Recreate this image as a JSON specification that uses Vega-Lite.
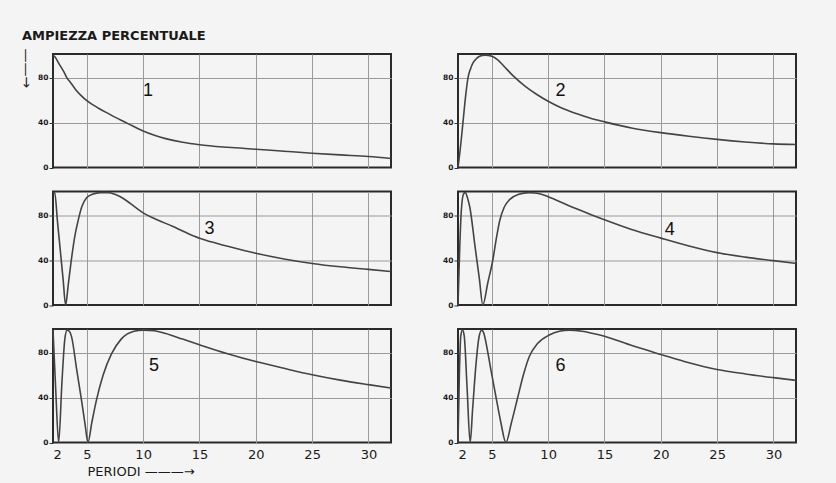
{
  "$schema": "https://vega.github.io/schema/vega-lite/v6.json",
  "background": "#f4f4f4",
  "padding": {"left": 17, "top": 30, "right": 40, "bottom": 10},
  "title": {"text": "AMPIEZZA  PERCENTUALE", "anchor": "start", "font": "DejaVu Sans", "fontSize": 13, "fontWeight": "bold", "color": "#1a1a1a", "baseline": "alphabetic", "offset": -6, "dx": 5},
  "datasets": {
    "curves": [
      {"p":1,"x":2,"y":100},{"p":1,"x":2.2,"y":98},{"p":1,"x":2.55,"y":92},{"p":1,"x":3,"y":84.5},{"p":1,"x":3.2,"y":80.5},{"p":1,"x":3.6,"y":75},{"p":1,"x":4,"y":69.5},{"p":1,"x":4.5,"y":64},{"p":1,"x":5,"y":59.5},{"p":1,"x":6,"y":53},{"p":1,"x":7,"y":47.5},{"p":1,"x":8,"y":42.2},{"p":1,"x":9,"y":37.3},{"p":1,"x":10,"y":32.5},{"p":1,"x":11,"y":28.7},{"p":1,"x":12,"y":25.7},{"p":1,"x":13.5,"y":22.5},{"p":1,"x":15,"y":20.3},{"p":1,"x":17.5,"y":18},{"p":1,"x":20,"y":16.3},{"p":1,"x":22.5,"y":14.5},{"p":1,"x":25,"y":12.7},{"p":1,"x":27.5,"y":11.2},{"p":1,"x":30,"y":9.8},{"p":1,"x":32,"y":8},
      {"p":2,"x":2,"y":0},{"p":2,"x":2.15,"y":12},{"p":2,"x":2.3,"y":26},{"p":2,"x":2.44,"y":40},{"p":2,"x":2.68,"y":64},{"p":2,"x":2.89,"y":80},{"p":2,"x":3.1,"y":87.5},{"p":2,"x":3.33,"y":93},{"p":2,"x":3.6,"y":96.5},{"p":2,"x":3.92,"y":99},{"p":2,"x":4.4,"y":100},{"p":2,"x":5,"y":99},{"p":2,"x":5.5,"y":96},{"p":2,"x":6,"y":91},{"p":2,"x":6.9,"y":81.5},{"p":2,"x":8,"y":72},{"p":2,"x":9,"y":65},{"p":2,"x":10,"y":59},{"p":2,"x":11.2,"y":53},{"p":2,"x":12.5,"y":48},{"p":2,"x":13.7,"y":44},{"p":2,"x":15,"y":40.6},{"p":2,"x":17.5,"y":35},{"p":2,"x":20,"y":31},{"p":2,"x":22.5,"y":27.8},{"p":2,"x":25,"y":25},{"p":2,"x":27.5,"y":22.7},{"p":2,"x":30,"y":21},{"p":2,"x":32,"y":20.5},
      {"p":3,"x":2,"y":100},{"p":3,"x":2.15,"y":100},{"p":3,"x":2.4,"y":74},{"p":3,"x":2.62,"y":51.5},{"p":3,"x":2.9,"y":22.6},{"p":3,"x":3.12,"y":0},{"p":3,"x":3.35,"y":17.7},{"p":3,"x":3.6,"y":38},{"p":3,"x":3.95,"y":62},{"p":3,"x":4.25,"y":76},{"p":3,"x":4.54,"y":87},{"p":3,"x":4.98,"y":95.5},{"p":3,"x":5.5,"y":98.5},{"p":3,"x":6.2,"y":100},{"p":3,"x":6.9,"y":100},{"p":3,"x":7.5,"y":98.5},{"p":3,"x":8.5,"y":93},{"p":3,"x":9.2,"y":87.8},{"p":3,"x":10,"y":82},{"p":3,"x":11,"y":77},{"p":3,"x":12.6,"y":70},{"p":3,"x":13.8,"y":64.5},{"p":3,"x":15,"y":59.5},{"p":3,"x":16.5,"y":55},{"p":3,"x":17.5,"y":52.3},{"p":3,"x":20,"y":46},{"p":3,"x":22.5,"y":41},{"p":3,"x":25,"y":37},{"p":3,"x":27.5,"y":34},{"p":3,"x":30,"y":31.7},{"p":3,"x":32,"y":29.8},
      {"p":4,"x":2,"y":0},{"p":4,"x":2.15,"y":50},{"p":4,"x":2.3,"y":85},{"p":4,"x":2.5,"y":99},{"p":4,"x":2.65,"y":100},{"p":4,"x":2.85,"y":95},{"p":4,"x":3.05,"y":87},{"p":4,"x":3.5,"y":53},{"p":4,"x":3.9,"y":23},{"p":4,"x":4.2,"y":0},{"p":4,"x":4.65,"y":20},{"p":4,"x":5.1,"y":40.5},{"p":4,"x":5.4,"y":59},{"p":4,"x":5.7,"y":75},{"p":4,"x":6.1,"y":87},{"p":4,"x":6.6,"y":94},{"p":4,"x":7.4,"y":98.5},{"p":4,"x":8.3,"y":100},{"p":4,"x":8.8,"y":99.7},{"p":4,"x":9.4,"y":98.6},{"p":4,"x":10,"y":96.4},{"p":4,"x":10.6,"y":93.8},{"p":4,"x":11.2,"y":91.2},{"p":4,"x":12.4,"y":86},{"p":4,"x":13.7,"y":80.8},{"p":4,"x":15,"y":75.8},{"p":4,"x":17.4,"y":67.2},{"p":4,"x":20,"y":59.5},{"p":4,"x":22.5,"y":52.5},{"p":4,"x":25,"y":46.6},{"p":4,"x":27.5,"y":42.6},{"p":4,"x":30,"y":39.5},{"p":4,"x":32,"y":37},
      {"p":5,"x":2,"y":100},{"p":5,"x":2.25,"y":45},{"p":5,"x":2.5,"y":0},{"p":5,"x":2.8,"y":55},{"p":5,"x":3.05,"y":92},{"p":5,"x":3.25,"y":100},{"p":5,"x":3.45,"y":99},{"p":5,"x":3.65,"y":94},{"p":5,"x":4.1,"y":65},{"p":5,"x":4.54,"y":37},{"p":5,"x":4.85,"y":16},{"p":5,"x":5.1,"y":0},{"p":5,"x":5.45,"y":18},{"p":5,"x":5.84,"y":37},{"p":5,"x":6.45,"y":60},{"p":5,"x":7.2,"y":79},{"p":5,"x":8.05,"y":92},{"p":5,"x":9.2,"y":99},{"p":5,"x":10,"y":100},{"p":5,"x":11,"y":99.5},{"p":5,"x":12,"y":97},{"p":5,"x":13.5,"y":92},{"p":5,"x":15,"y":87},{"p":5,"x":17.5,"y":79},{"p":5,"x":20,"y":72},{"p":5,"x":22.5,"y":66},{"p":5,"x":25,"y":60.3},{"p":5,"x":27.5,"y":55.5},{"p":5,"x":30,"y":51.5},{"p":5,"x":32,"y":48.5},
      {"p":6,"x":2,"y":0},{"p":6,"x":2.12,"y":60},{"p":6,"x":2.25,"y":95},{"p":6,"x":2.4,"y":100},{"p":6,"x":2.55,"y":95},{"p":6,"x":2.8,"y":50},{"p":6,"x":3.08,"y":0},{"p":6,"x":3.3,"y":30},{"p":6,"x":3.6,"y":70},{"p":6,"x":3.85,"y":93},{"p":6,"x":4.1,"y":100},{"p":6,"x":4.3,"y":97},{"p":6,"x":4.5,"y":88},{"p":6,"x":4.95,"y":63},{"p":6,"x":5.38,"y":40},{"p":6,"x":5.8,"y":18},{"p":6,"x":6.25,"y":0},{"p":6,"x":6.75,"y":18},{"p":6,"x":7.3,"y":40},{"p":6,"x":7.8,"y":60},{"p":6,"x":8.33,"y":76.5},{"p":6,"x":9.06,"y":88},{"p":6,"x":10.1,"y":95.6},{"p":6,"x":11,"y":99},{"p":6,"x":11.9,"y":100},{"p":6,"x":13,"y":99},{"p":6,"x":14,"y":97},{"p":6,"x":15,"y":94.5},{"p":6,"x":17.5,"y":86},{"p":6,"x":20,"y":78.4},{"p":6,"x":22.5,"y":71},{"p":6,"x":25,"y":65},{"p":6,"x":27.5,"y":61},{"p":6,"x":30,"y":57.7},{"p":6,"x":32,"y":55.3}
    ],
    "labels": [
      {"p":1,"x":10.43,"y":68.4,"t":"1"},
      {"p":2,"x":11.1,"y":68,"t":"2"},
      {"p":3,"x":15.9,"y":67.5,"t":"3"},
      {"p":4,"x":20.8,"y":66.9,"t":"4"},
      {"p":5,"x":10.96,"y":68,"t":"5"},
      {"p":6,"x":11.1,"y":68.4,"t":"6"}
    ]
  },
  "bounds": "flush",
  "columns": 2,
  "spacing": {"row": 23.5, "column": 67},
  "resolve": {"scale": {"x": "independent", "y": "independent"}, "axis": {"x": "independent", "y": "independent"}},
  "concat": [
    {
      "width": 338, "height": 113.5,
      "layer": [
        {"data": {"name": "curves"}, "transform": [{"filter": "datum.p == 1"}],
         "mark": {"type": "line", "interpolate": "monotone", "color": "#444", "strokeWidth": 1.6},
         "encoding": {
           "x": {"field": "x", "type": "quantitative", "scale": {"domain": [2, 32], "nice": false, "zero": false},
                 "axis": {"values": [5, 10, 15, 20, 25, 30], "labels": false, "ticks": false, "domain": false, "grid": true, "title": null}},
           "y": {"field": "y", "type": "quantitative", "scale": {"domain": [0, 101], "nice": false},
                 "axis": {"values": [0, 20, 40, 60, 80], "labelExpr": "datum.value % 40 == 0 ? datum.label : ''",
                          "tickOpacity": {"condition": {"test": "datum.value % 40 == 0", "value": 1}, "value": 0},
                          "gridOpacity": {"condition": {"test": "datum.value == 0", "value": 0}, "value": 1},
                          "title": "——→", "titleAngle": 90, "titleFont": "DejaVu Sans", "titleFontSize": 14, "titleFontWeight": "normal", "titleColor": "#222", "titleX": -28, "titleY": -6, "titleAlign": "left", "titleBaseline": "middle"}}
         }},
        {"data": {"name": "labels"}, "transform": [{"filter": "datum.p == 1"}],
         "mark": {"type": "text", "font": "Liberation Sans", "fontSize": 18, "color": "#111"},
         "encoding": {"x": {"field": "x", "type": "quantitative"}, "y": {"field": "y", "type": "quantitative"}, "text": {"field": "t"}}}
      ]
    },
    {
      "width": 338, "height": 113.5,
      "layer": [
        {"data": {"name": "curves"}, "transform": [{"filter": "datum.p == 2"}],
         "mark": {"type": "line", "interpolate": "monotone", "color": "#444", "strokeWidth": 1.6},
         "encoding": {
           "x": {"field": "x", "type": "quantitative", "scale": {"domain": [2, 32], "nice": false, "zero": false},
                 "axis": {"values": [5, 10, 15, 20, 25, 30], "labels": false, "ticks": false, "domain": false, "grid": true, "title": null}},
           "y": {"field": "y", "type": "quantitative", "scale": {"domain": [0, 101], "nice": false},
                 "axis": {"values": [0, 20, 40, 60, 80], "labelExpr": "datum.value % 40 == 0 ? datum.label : ''",
                          "tickOpacity": {"condition": {"test": "datum.value % 40 == 0", "value": 1}, "value": 0},
                          "gridOpacity": {"condition": {"test": "datum.value == 0", "value": 0}, "value": 1},
                          "title": null}}
         }},
        {"data": {"name": "labels"}, "transform": [{"filter": "datum.p == 2"}],
         "mark": {"type": "text", "font": "Liberation Sans", "fontSize": 18, "color": "#111"},
         "encoding": {"x": {"field": "x", "type": "quantitative"}, "y": {"field": "y", "type": "quantitative"}, "text": {"field": "t"}}}
      ]
    },
    {
      "width": 338, "height": 113.5,
      "layer": [
        {"data": {"name": "curves"}, "transform": [{"filter": "datum.p == 3"}],
         "mark": {"type": "line", "interpolate": "monotone", "color": "#444", "strokeWidth": 1.6},
         "encoding": {
           "x": {"field": "x", "type": "quantitative", "scale": {"domain": [2, 32], "nice": false, "zero": false},
                 "axis": {"values": [5, 10, 15, 20, 25, 30], "labels": false, "ticks": false, "domain": false, "grid": true, "title": null}},
           "y": {"field": "y", "type": "quantitative", "scale": {"domain": [0, 101], "nice": false},
                 "axis": {"values": [0, 20, 40, 60, 80], "labelExpr": "datum.value % 40 == 0 ? datum.label : ''",
                          "tickOpacity": {"condition": {"test": "datum.value % 40 == 0", "value": 1}, "value": 0},
                          "gridOpacity": {"condition": {"test": "datum.value == 0", "value": 0}, "value": 1},
                          "title": null}}
         }},
        {"data": {"name": "labels"}, "transform": [{"filter": "datum.p == 3"}],
         "mark": {"type": "text", "font": "Liberation Sans", "fontSize": 18, "color": "#111"},
         "encoding": {"x": {"field": "x", "type": "quantitative"}, "y": {"field": "y", "type": "quantitative"}, "text": {"field": "t"}}}
      ]
    },
    {
      "width": 338, "height": 113.5,
      "layer": [
        {"data": {"name": "curves"}, "transform": [{"filter": "datum.p == 4"}],
         "mark": {"type": "line", "interpolate": "monotone", "color": "#444", "strokeWidth": 1.6},
         "encoding": {
           "x": {"field": "x", "type": "quantitative", "scale": {"domain": [2, 32], "nice": false, "zero": false},
                 "axis": {"values": [5, 10, 15, 20, 25, 30], "labels": false, "ticks": false, "domain": false, "grid": true, "title": null}},
           "y": {"field": "y", "type": "quantitative", "scale": {"domain": [0, 101], "nice": false},
                 "axis": {"values": [0, 20, 40, 60, 80], "labelExpr": "datum.value % 40 == 0 ? datum.label : ''",
                          "tickOpacity": {"condition": {"test": "datum.value % 40 == 0", "value": 1}, "value": 0},
                          "gridOpacity": {"condition": {"test": "datum.value == 0", "value": 0}, "value": 1},
                          "title": null}}
         }},
        {"data": {"name": "labels"}, "transform": [{"filter": "datum.p == 4"}],
         "mark": {"type": "text", "font": "Liberation Sans", "fontSize": 18, "color": "#111"},
         "encoding": {"x": {"field": "x", "type": "quantitative"}, "y": {"field": "y", "type": "quantitative"}, "text": {"field": "t"}}}
      ]
    },
    {
      "width": 338, "height": 113.5,
      "layer": [
        {"data": {"name": "curves"}, "transform": [{"filter": "datum.p == 5"}],
         "mark": {"type": "line", "interpolate": "monotone", "color": "#444", "strokeWidth": 1.6},
         "encoding": {
           "x": {"field": "x", "type": "quantitative", "scale": {"domain": [2, 32], "nice": false, "zero": false},
                 "axis": {"values": [2, 5, 10, 15, 20, 25, 30], "ticks": false, "domain": false, "grid": true,
                          "gridOpacity": {"condition": {"test": "datum.value == 2", "value": 0}, "value": 1},
                          "title": "PERIODI   ———→", "titleFont": "DejaVu Sans", "titleFontSize": 13, "titleFontWeight": "normal", "titleColor": "#1a1a1a", "titleAlign": "left", "titleBaseline": "alphabetic", "titleX": 34, "titleY": 33}},
           "y": {"field": "y", "type": "quantitative", "scale": {"domain": [0, 101], "nice": false},
                 "axis": {"values": [0, 20, 40, 60, 80], "labelExpr": "datum.value % 40 == 0 ? datum.label : ''",
                          "tickOpacity": {"condition": {"test": "datum.value % 40 == 0", "value": 1}, "value": 0},
                          "gridOpacity": {"condition": {"test": "datum.value == 0", "value": 0}, "value": 1},
                          "title": null}}
         }},
        {"data": {"name": "labels"}, "transform": [{"filter": "datum.p == 5"}],
         "mark": {"type": "text", "font": "Liberation Sans", "fontSize": 18, "color": "#111"},
         "encoding": {"x": {"field": "x", "type": "quantitative"}, "y": {"field": "y", "type": "quantitative"}, "text": {"field": "t"}}}
      ]
    },
    {
      "width": 338, "height": 113.5,
      "layer": [
        {"data": {"name": "curves"}, "transform": [{"filter": "datum.p == 6"}],
         "mark": {"type": "line", "interpolate": "monotone", "color": "#444", "strokeWidth": 1.6},
         "encoding": {
           "x": {"field": "x", "type": "quantitative", "scale": {"domain": [2, 32], "nice": false, "zero": false},
                 "axis": {"values": [2, 5, 10, 15, 20, 25, 30], "ticks": false, "domain": false, "grid": true,
                          "gridOpacity": {"condition": {"test": "datum.value == 2", "value": 0}, "value": 1},
                          "title": null}},
           "y": {"field": "y", "type": "quantitative", "scale": {"domain": [0, 101], "nice": false},
                 "axis": {"values": [0, 20, 40, 60, 80], "labelExpr": "datum.value % 40 == 0 ? datum.label : ''",
                          "tickOpacity": {"condition": {"test": "datum.value % 40 == 0", "value": 1}, "value": 0},
                          "gridOpacity": {"condition": {"test": "datum.value == 0", "value": 0}, "value": 1},
                          "title": null}}
         }},
        {"data": {"name": "labels"}, "transform": [{"filter": "datum.p == 6"}],
         "mark": {"type": "text", "font": "Liberation Sans", "fontSize": 18, "color": "#111"},
         "encoding": {"x": {"field": "x", "type": "quantitative"}, "y": {"field": "y", "type": "quantitative"}, "text": {"field": "t"}}}
      ]
    }
  ],
  "config": {
    "view": {"stroke": "#2a2a2a", "strokeWidth": 2},
    "axis": {"gridColor": "#9a9a9a", "gridWidth": 1, "domain": false, "labelFont": "DejaVu Sans", "labelColor": "#1a1a1a"},
    "axisY": {"labelFontSize": 7.5, "labelFontWeight": "bold", "tickSize": 4, "tickColor": "#333", "labelPadding": 1},
    "axisX": {"labelFontSize": 13, "labelPadding": 6, "ticks": false}
  }
}
